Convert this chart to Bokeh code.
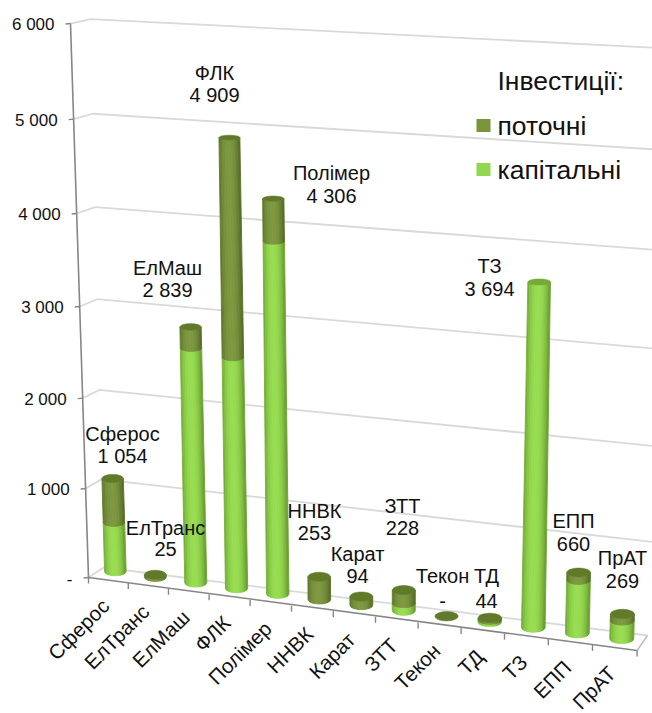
import math
from bokeh.plotting import figure
from bokeh.embed import file_html
from bokeh.resources import INLINE
from bokeh.core.properties import value

# ---- data ----
categories = ["Сферос", "ЕлТранс", "ЕлМаш", "ФЛК", "Полімер", "ННВК", "Карат", "ЗТТ", "Текон", "ТД", "ТЗ", "ЕПП", "ПрАТ"]
capital = [560, 0, 2610, 2560, 3855, 0, 0, 85, 0, 25, 3694, 580, 200]
current = [494, 25, 229, 2349, 451, 253, 94, 143, 0, 19, 0, 80, 69]
y_ticks = [0, 1000, 2000, 3000, 4000, 5000, 6000]
legend_title = "Інвестиції:"
legend_names = ["поточні", "капітальні"]

# ---- hand-placed label anchors of the original (x, first line y, second line y) ----
label_pos = [(122, 433, 455), (165, 527, 548), (167, 267, 289), (214, 72, 94), (331, 172, 195),
             (314, 510, 532), (357, 553, 575), (402, 505, 527), (442, 575, 600), (486, 575, 600),
             (489, 265, 288), (573, 520, 543), (622, 557, 580)]

FONT = value("Liberation Sans")
LIGHT = ((152, 221, 82), (106, 160, 48), (118, 168, 58))
DARK = ((126, 152, 64), (88, 110, 40), (96, 122, 42))


def fmt(v):
    return "-" if v == 0 else f"{v:,}".replace(",", " ")


# ---- 3D projection of the chart's box onto the page ----
def height(v):
    k = v / 1000
    return 88.33 * k + 0.667 * k * k


def tick_x(t):
    return 88 + 39.6 * t + 0.2 * t * t


def tick_y(t):
    return 577 + 5.615 * t


def axis_point(v):
    h = height(v)
    return 88 - 0.0325 * h, 577 - h


def wall_point(v):
    h = 0.99 * height(v)
    return 103 - 0.0237 * h, 567 - h


def right_point(v):
    return 652, 636 - 1.063 * height(v)


def bar_point(i, v):
    bx = tick_x(i + 0.5) + 7
    by = tick_y(i + 0.5) - 9
    h = height(v) * (0.99 + 0.004 * i)
    return bx + 0.00011 * (bx - 380) * h, by - h


def radius(i, v):
    return (10.8 + 0.1 * i) * (1 - 0.000012 * v)


def semi(y):
    return (3.5 + 0.0095 * y) / 2


def mix(c, g):
    return "#%02x%02x%02x" % tuple(round(a + (b - a) * g) for a, b in zip(c[0], c[1]))


p = figure(width=652, height=713, x_range=(0, 652), y_range=(713, 0), toolbar_location=None,
           output_backend="svg", min_border=0, x_axis_type=None, y_axis_type=None)
p.outline_line_color = None
p.grid.visible = False
p.background_fill_color = "white"

# walls: grid lines
for v in y_ticks:
    a, w, r = axis_point(v), wall_point(v), right_point(v)
    if v == 0:
        r = (647, 635)
    p.line([a[0], w[0], r[0]], [a[1], w[1], r[1]], line_color="#d9d9d9", line_width=1.8)
# floor right edge + front axis + value axis
p.line([tick_x(13), 647], [tick_y(13), 635], line_color="#bdbdbd", line_width=1.5)
top, bot = axis_point(6000), axis_point(0)
p.line([top[0], bot[0]], [top[1], bot[1]], line_color="#868686", line_width=1.6)
p.line([tick_x(0), tick_x(13)], [tick_y(0), tick_y(13)], line_color="#868686", line_width=1.6)
for t in range(14):
    p.segment([tick_x(t)], [tick_y(t)], [tick_x(t)], [tick_y(t) + 6], line_color="#868686", line_width=1.4)
for v in y_ticks:
    x, y = axis_point(v)
    p.segment([x - 5], [y + 0.5], [x], [y], line_color="#868686", line_width=1.4)
    p.text([x - 16], [y + 1], text=[fmt(v)], text_font=FONT, text_font_size="17px", text_color="#111111",
           text_align="right", text_baseline="middle")

# cylinders
N = 14
for i in range(len(categories)):
    segs = [(0, capital[i], LIGHT), (capital[i], capital[i] + current[i], DARK)]
    for v0, v1, col in segs:
        if v1 == v0:
            continue
        xs, ys, cs = [], [], []
        x0, y0 = bar_point(i, v0)
        x1, y1 = bar_point(i, v1)
        r0, r1 = radius(i, v0), radius(i, v1)
        e0, e1 = semi(y0), semi(y1)
        for j in range(N):
            u = [-1 + 2 * (j + q / 3) / N for q in range(4)]
            low = [(x0 + a * r0, y0 + e0 * math.sqrt(max(0, 1 - a * a))) for a in u]
            up = [(x1 + a * r1, y1 + e1 * math.sqrt(max(0, 1 - a * a))) for a in u]
            poly = low + up[::-1]
            xs.append([q[0] for q in poly])
            ys.append([q[1] for q in poly])
            mid = (u[0] + u[-1]) / 2
            cs.append(mix(col, min(1, abs(mid + 0.05) ** 2.2)))
        p.patches(xs, ys, fill_color=cs, line_color=cs, line_width=0.9)
    total = capital[i] + current[i]
    col = DARK if current[i] > 0 or total == 0 else LIGHT
    x1, y1 = bar_point(i, total)
    r1, e1 = radius(i, total), semi(y1)
    angles = [2 * math.pi * k / 40 for k in range(40)]
    p.patch([x1 + r1 * math.cos(a) for a in angles], [y1 + e1 * math.sin(a) for a in angles],
            fill_color="#%02x%02x%02x" % col[2], line_color="#%02x%02x%02x" % col[2], line_width=0.5)

# category labels, data labels
for i, name in enumerate(categories):
    p.text([tick_x(i + 0.5) - 3], [tick_y(i + 0.5) + 22], text=[name], angle=math.radians(45), text_font=FONT,
           text_font_size="20.5px", text_color="#111111", text_align="right", text_baseline="middle")
    lx, ly1, ly2 = label_pos[i]
    total = capital[i] + current[i]
    p.text([lx, lx], [ly1, ly2], text=[name, fmt(total)], text_font=FONT, text_font_size="20px",
           text_color="#111111", text_align="center", text_baseline="middle")

# legend
p.text([497], [80], text=[legend_title], text_font=FONT, text_font_size="26.5px", text_color="#111111",
       text_align="left", text_baseline="middle")
for name, y, c in zip(legend_names, [125, 169], ["#7a943c", "#93d64f"]):
    p.rect([483], [y], width=14, height=13, fill_color=c, line_color=None)
    p.text([497], [y], text=[name], text_font=FONT, text_font_size="26.5px", text_color="#111111",
           text_align="left", text_baseline="middle")

open("out.html", "w").write(file_html(p, INLINE))
